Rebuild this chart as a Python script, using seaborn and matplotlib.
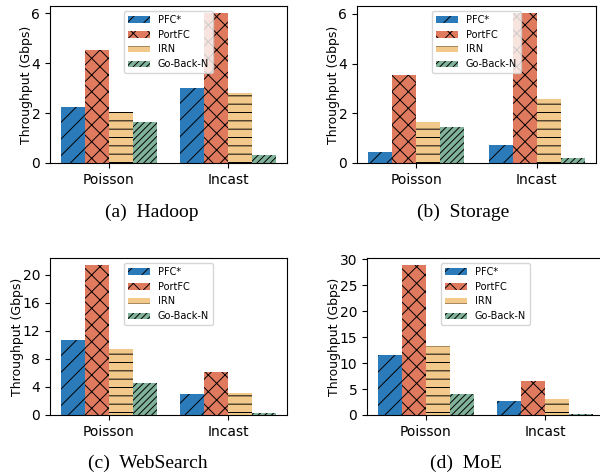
import pandas as pd
import seaborn as sns
import matplotlib.pyplot as plt
from matplotlib.ticker import MultipleLocator

# Datos
escenarios = ['Poisson', 'Incast']
esquemas = ['PFC*', 'PortFC', 'IRN', 'Go-Back-N']

hadoop = {'PFC*': [2.25, 3.01], 'PortFC': [4.53, 6.0], 'IRN': [2.05, 2.81], 'Go-Back-N': [1.65, 0.33]}
storage = {'PFC*': [0.46, 0.74], 'PortFC': [3.55, 6.02], 'IRN': [1.65, 2.58], 'Go-Back-N': [1.43, 0.21]}
websearch = {'PFC*': [10.66, 2.98], 'PortFC': [21.3, 6.1], 'IRN': [9.34, 3.08], 'Go-Back-N': [4.5, 0.28]}
moe = {'PFC*': [11.5, 2.7], 'PortFC': [28.8, 6.5], 'IRN': [13.3, 3.08], 'Go-Back-N': [4.04, 0.26]}

titulos = ['(a)  Hadoop', '(b)  Storage', '(c)  WebSearch', '(d)  MoE']
paso_ticks = [2, 2, 4, 5]

colores = ['#2b7bba', '#e07a5f', '#f2c98b', '#81b29a']
tramas = ['//', 'xx', '--', '/////']


def a_dataframe(datos):
    filas = []
    for esquema in esquemas:
        for escenario, valor in zip(escenarios, datos[esquema]):
            filas.append({'Escenario': escenario, 'Esquema': esquema, 'Throughput': valor})
    return pd.DataFrame(filas)


def graficar(ax, datos, paso):
    df = a_dataframe(datos)
    sns.barplot(data=df, x='Escenario', y='Throughput', hue='Esquema',
                hue_order=esquemas, order=escenarios, palette=colores,
                width=0.8, edgecolor='black', linewidth=0, legend=False,
                saturation=1, ax=ax)
    # Tramas por esquema
    for contenedor, trama in zip(ax.containers, tramas):
        for barra in contenedor:
            barra.set_hatch(trama)
    ax.set_xlim(-0.49, 1.49)
    ax.set_ylim(0, max(max(v) for v in datos.values()) * 1.05)
    ax.yaxis.set_major_locator(MultipleLocator(paso))
    ax.set_xlabel('')
    ax.set_ylabel('Throughput (Gbps)', fontsize=9, labelpad=-1)
    ax.tick_params(axis='both', labelsize=10)
    ax.legend(ax.containers, esquemas, loc='upper center', fontsize=7,
              handlelength=2.3)


plt.rcParams['hatch.linewidth'] = 0.7
fig = plt.figure(figsize=(6, 4.76), dpi=100)

posiciones = [
    [50 / 600, 313 / 476, 237 / 600, 157 / 476],
    [357 / 600, 313 / 476, 239 / 600, 157 / 476],
    [50 / 600, 61 / 476, 237 / 600, 157 / 476],
    [367 / 600, 61 / 476, 237 / 600, 157 / 476],
]
conjuntos = [hadoop, storage, websearch, moe]
pos_titulos = [(152, 212), (463, 212), (148, 463), (466, 463)]

for pos, datos, paso, titulo, (tx, ty) in zip(posiciones, conjuntos, paso_ticks, titulos, pos_titulos):
    ax = fig.add_axes(pos)
    graficar(ax, datos, paso)
    fig.text(tx / 600, 1 - ty / 476, titulo, ha='center', va='center',
             fontsize=14, family='Liberation Serif')

plt.savefig('out.png', dpi=100)
